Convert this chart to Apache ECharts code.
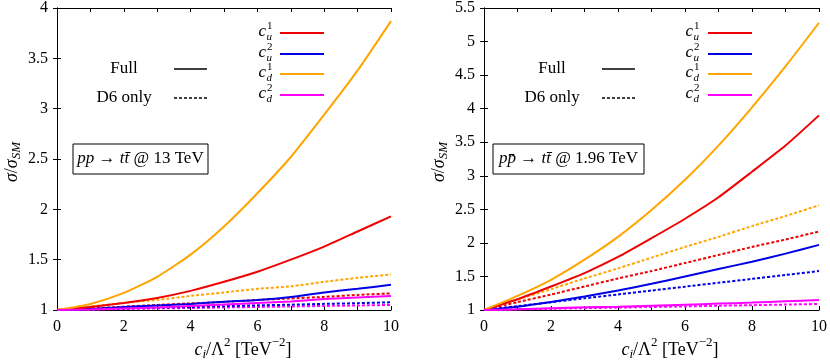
<!DOCTYPE html>
<html><head><meta charset="utf-8">
<script src="https://cdn.jsdelivr.net/npm/echarts@6/dist/echarts.min.js"></script>
<style>html,body{margin:0;padding:0;background:#fff}#c{width:830px;height:361px}</style>
</head><body><div id="c"></div><script>
// ---- data ----
const X = [0, 1, 2, 3, 4, 5, 6, 7, 8, 9, 10];
// pp -> tt @ 13 TeV
const lhc_cu1_full = [1, 1.03, 1.07, 1.12, 1.19, 1.28, 1.38, 1.50, 1.63, 1.78, 1.93];
const lhc_cu2_full = [1, 1.01, 1.03, 1.045, 1.06, 1.083, 1.10, 1.13, 1.175, 1.21, 1.25];
const lhc_cd1_full = [1, 1.06, 1.17, 1.33, 1.55, 1.83, 2.16, 2.52, 2.94, 3.38, 3.87];
const lhc_cd2_full = [1, 1.005, 1.015, 1.025, 1.04, 1.055, 1.07, 1.085, 1.11, 1.125, 1.14];
const lhc_cu1_d6 = [1, 1.016, 1.033, 1.05, 1.066, 1.08, 1.10, 1.115, 1.13, 1.15, 1.165];
const lhc_cu2_d6 = [1, 1.008, 1.015, 1.023, 1.03, 1.038, 1.046, 1.053, 1.061, 1.068, 1.076];
const lhc_cd1_d6 = [1, 1.035, 1.07, 1.10, 1.14, 1.175, 1.21, 1.235, 1.28, 1.32, 1.354];
const lhc_cd2_d6 = [1, 1.005, 1.01, 1.015, 1.02, 1.025, 1.03, 1.035, 1.04, 1.045, 1.05];
// p pbar -> tt @ 1.96 TeV
const tev_cu1_full = [1, 1.16, 1.35, 1.55, 1.79, 2.07, 2.36, 2.68, 3.06, 3.45, 3.90];
const tev_cu2_full = [1, 1.05, 1.12, 1.20, 1.29, 1.39, 1.50, 1.61, 1.72, 1.84, 1.97];
const tev_cd1_full = [1, 1.21, 1.45, 1.75, 2.09, 2.49, 2.94, 3.45, 4.02, 4.63, 5.28];
const tev_cd2_full = [1, 1.01, 1.025, 1.04, 1.05, 1.065, 1.08, 1.095, 1.11, 1.13, 1.15];
const tev_cu1_d6 = [1, 1.117, 1.23, 1.35, 1.47, 1.58, 1.70, 1.82, 1.94, 2.05, 2.17];
const tev_cu2_d6 = [1, 1.058, 1.116, 1.174, 1.232, 1.29, 1.348, 1.406, 1.464, 1.522, 1.58];
const tev_cd1_d6 = [1, 1.156, 1.31, 1.47, 1.62, 1.78, 1.94, 2.09, 2.25, 2.40, 2.56];
const tev_cd2_d6 = [1, 1.009, 1.018, 1.027, 1.036, 1.045, 1.054, 1.063, 1.072, 1.081, 1.09];
const yRangeLHC = [1, 4];
const yRangeTEV = [1, 5.5];

// ---- styling helpers ----
const FONT = '"Liberation Serif", "DejaVu Serif", serif';
const COL = {cu1: '#f00000', cu2: '#0000e6', cd1: '#ffa500', cd2: '#ff00ff'};
const cv = document.createElement('canvas').getContext('2d');
function fnt(size, it) { return (it ? 'italic ' : '') + size + 'px ' + FONT; }
function tw(t, size, it) { cv.font = fnt(size, it); return cv.measureText(t).width; }
// piece: [text, italic, scale, dy(em), advance, dx(px)]
function math(pieces, x, y, size, align, rot) {
  let cx = 0; const kids = [];
  pieces.forEach(p => {
    const t = p[0], it = p[1], sc = p[2] || 1, dy = p[3] || 0, adv = p[4] === undefined ? true : p[4], dx = p[5] || 0;
    const s = Math.round(size * sc);
    kids.push({type: 'text', x: cx + dx, y: Math.round(dy * size),
      style: {text: t, font: fnt(s, it), fill: '#000', align: 'left', verticalAlign: 'middle'}});
    if (adv) cx += tw(t, s, it) + dx;
  });
  const off = align === 'center' ? -cx / 2 : (align === 'right' ? -cx : 0);
  kids.forEach(k => k.x += off);
  return {type: 'group', x: x, y: y, rotation: rot || 0, children: kids};
}
function cLabel(sup, sub, x, y) {
  return math([['c', 1], [sup, 0, 0.65, -0.38, false, 1], [sub, 1, 0.65, 0.3, true, 0.5]], x, y - 1, 17, 'right');
}

const grids = [
  {left: 57, top: 8, width: 334, height: 302},
  {left: 484, top: 8, width: 335, height: 302}
];
const ranges = [yRangeLHC, yRangeTEV];
const xAxes = [], yAxes = [];
grids.forEach((g, i) => {
  const common = {axisLine: {lineStyle: {color: '#000', width: 1}}, splitLine: {show: false},
    axisTick: {inside: true, length: 4, lineStyle: {color: '#000'}}};
  xAxes.push(Object.assign({type: 'value', gridIndex: i, min: 0, max: 10, interval: 1, position: 'bottom',
    axisLabel: {color: '#000', fontFamily: FONT, fontSize: 16, margin: 9,
      formatter: v => (v % 2 === 0 ? String(v) : '')}}, common));
  xAxes.push(Object.assign({type: 'value', gridIndex: i, min: 0, max: 10, interval: 1, position: 'top',
    axisLabel: {show: false}}, common));
  yAxes.push(Object.assign({type: 'value', gridIndex: i, min: ranges[i][0], max: ranges[i][1], interval: 0.5, position: 'left',
    axisLabel: {color: '#000', fontFamily: FONT, fontSize: 16, margin: 9, formatter: v => String(v)}}, common));
  yAxes.push(Object.assign({type: 'value', gridIndex: i, min: ranges[i][0], max: ranges[i][1], interval: 0.5, position: 'right',
    axisLabel: {show: false}}, common));
});

function mk(name, data, color, dashed, gi) {
  return {type: 'line', name: name, xAxisIndex: gi * 2, yAxisIndex: gi * 2,
    data: X.map((x, k) => [x, data[k]]), showSymbol: false, smooth: 0.2, animation: false,
    lineStyle: {color: color, width: 2, type: dashed ? [3, 2] : 'solid'}};
}
const series = [
  mk('cd2 D6', lhc_cd2_d6, COL.cd2, true, 0),
  mk('cu2 D6', lhc_cu2_d6, COL.cu2, true, 0),
  mk('cu1 D6', lhc_cu1_d6, COL.cu1, true, 0),
  mk('cd1 D6', lhc_cd1_d6, COL.cd1, true, 0),
  mk('cu2', lhc_cu2_full, COL.cu2, false, 0),
  mk('cu1', lhc_cu1_full, COL.cu1, false, 0),
  mk('cd1', lhc_cd1_full, COL.cd1, false, 0),
  mk('cd2', lhc_cd2_full, COL.cd2, false, 0),
  mk('cd2 D6', tev_cd2_d6, COL.cd2, true, 1),
  mk('cu2 D6', tev_cu2_d6, COL.cu2, true, 1),
  mk('cu1 D6', tev_cu1_d6, COL.cu1, true, 1),
  mk('cd1 D6', tev_cd1_d6, COL.cd1, true, 1),
  mk('cu2', tev_cu2_full, COL.cu2, false, 1),
  mk('cu1', tev_cu1_full, COL.cu1, false, 1),
  mk('cd1', tev_cd1_full, COL.cd1, false, 1),
  mk('cd2', tev_cd2_full, COL.cd2, false, 1)
];

// ---- annotations (legend, titles, boxes) ----
const graphic = [];
const panels = [
  {cx: 272, lx0: 280, lx1: 324, fx: 124, fl0: 174, fl1: 207, yl: 12, xl: 243,
   box: [73, 144, 135, 30], boxText: [['pp', 1], [' → ', 0], ['tt\u0304', 1], [' @ 13 TeV', 0]]},
  {cx: 699, lx0: 708, lx1: 752, fx: 552, fl0: 602, fl1: 635, yl: 439, xl: 670,
   box: [493, 144, 151, 30], boxText: [['pp\u0304', 1], [' → ', 0], ['tt\u0304', 1], [' @ 1.96 TeV', 0]]}
];
const legRows = [['1', 'u', COL.cu1, 33], ['2', 'u', COL.cu2, 54], ['1', 'd', COL.cd1, 74], ['2', 'd', COL.cd2, 95]];
panels.forEach(p => {
  legRows.forEach(r => {
    graphic.push(cLabel(r[0], r[1], p.cx, r[3]));
    graphic.push({type: 'line', shape: {x1: p.lx0, y1: r[3], x2: p.lx1, y2: r[3]}, style: {stroke: r[2], lineWidth: 2}});
  });
  graphic.push(math([['Full', 0]], p.fx, 69, 17, 'center'));
  graphic.push({type: 'line', shape: {x1: p.fl0, y1: 69, x2: p.fl1, y2: 69}, style: {stroke: '#000', lineWidth: 1.5}});
  graphic.push(math([['D6 only', 0]], p.fx, 98, 17, 'center'));
  graphic.push({type: 'line', shape: {x1: p.fl0, y1: 98, x2: p.fl1, y2: 98}, style: {stroke: '#000', lineWidth: 1.5, lineDash: [3, 2]}});
  graphic.push({type: 'rect', shape: {x: p.box[0], y: p.box[1], width: p.box[2], height: p.box[3]},
    style: {fill: '#fff', stroke: '#000', lineWidth: 1}});
  graphic.push(math(p.boxText, p.box[0] + p.box[2] / 2, p.box[1] + p.box[3] / 2, 17, 'center'));
  graphic.push(math([['σ', 1], ['/', 0], ['σ', 1], ['SM', 1, 0.7, 0.3]], p.yl, 162, 18, 'center', Math.PI / 2));
  graphic.push(math([['c', 1], ['i', 1, 0.7, 0.3], ['/Λ', 0], ['2', 0, 0.7, -0.4], [' [TeV', 0], ['−2', 0, 0.7, -0.4], [']', 0]],
    p.xl, 350, 18, 'center'));
});

const chart = echarts.init(document.getElementById('c'), null, {renderer: 'canvas'});
chart.setOption({animation: false, backgroundColor: '#fff', grid: grids, xAxis: xAxes, yAxis: yAxes, series: series, graphic: graphic});
</script></body></html>
